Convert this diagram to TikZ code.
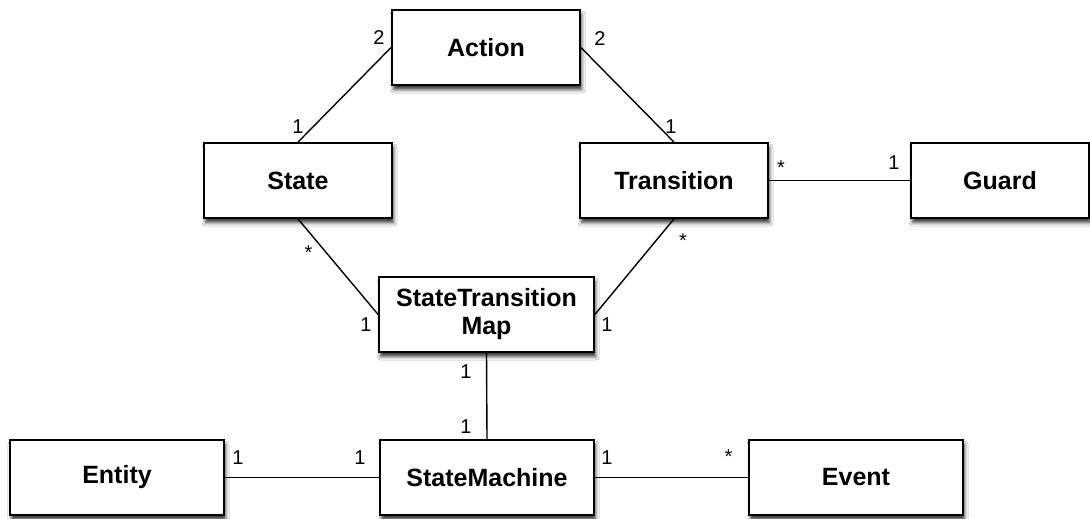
\documentclass[tikz,border=0pt]{standalone}
\usepackage{fontspec}
\setmainfont{Liberation Sans}
\usetikzlibrary{shadows.blur}

\tikzset{
  cls/.style={draw=black, line width=1.8pt, fill=white, minimum height=75pt,
    inner sep=0pt, align=center,
    font=\bfseries\fontsize{25}{28}\selectfont,
    blur shadow={shadow xshift=1.5pt, shadow yshift=-4.5pt,
      shadow blur radius=3.5pt, shadow opacity=80}},
  narrowcls/.style={cls, minimum width=188pt},
  widecls/.style={cls, minimum width=214pt},
  assoc/.style={draw=black, line width=1.4pt},
  mult/.style={font=\fontsize{20}{22}\selectfont, inner sep=0pt}
}

\begin{document}
\begin{tikzpicture}[x=1pt, y=-1pt]
\useasboundingbox (0,0) rectangle (1090,519);
\clip (0,0) rectangle (1090,519);
\fill[white] (0,0) rectangle (1090,519);

% classes
\node[narrowcls] (action) at (486,47.5) {Action};
\node[narrowcls] (state) at (298,180.5) {State};
\node[narrowcls] (trans) at (674,180.5) {Transition};
\node[cls, minimum width=178pt] (guard) at (1000,180.5) {Guard};
\node[widecls, minimum width=215pt] (stm) at (486.5,314.5) {StateTransition\\Map};
\node[widecls] (entity) at (117,477.5) {Entity};
\node[widecls] (sm) at (487,477.5) {StateMachine};
\node[widecls] (event) at (856,477.5) {Event};

% associations
\draw[assoc] (action.west) -- (state.north);
\draw[assoc] (action.east) -- (trans.north);
\draw[assoc] (state.south) -- (stm.west);
\draw[assoc] (trans.south) -- (stm.east);
\draw[assoc] (trans.east) -- (guard.west);
\draw[assoc] (stm.south) -- (sm.north);
\draw[assoc] (entity.east) -- (sm.west);
\draw[assoc] (sm.east) -- (event.west);

% multiplicities
\node[mult] (m1) at (379,38) {2};
\node[mult] (m2) at (298,127) {1};
\node[mult] (m3) at (600,39) {2};
\node[mult] (m4) at (671,127) {1};
\node[mult] (m5) at (781,168) {*};
\node[mult] (m6) at (894,163) {1};
\node[mult] (m7) at (308.6,253) {*};
\node[mult] (m8) at (366,325) {1};
\node[mult] (m9) at (683,241) {*};
\node[mult] (m10) at (607,325) {1};
\node[mult] (m11) at (466,372) {1};
\node[mult] (m12) at (466,427) {1};
\node[mult] (m13) at (238,458) {1};
\node[mult] (m14) at (360,458) {1};
\node[mult] (m15) at (607,458) {1};
\node[mult] (m16) at (728.5,457) {*};
\end{tikzpicture}
\end{document}
